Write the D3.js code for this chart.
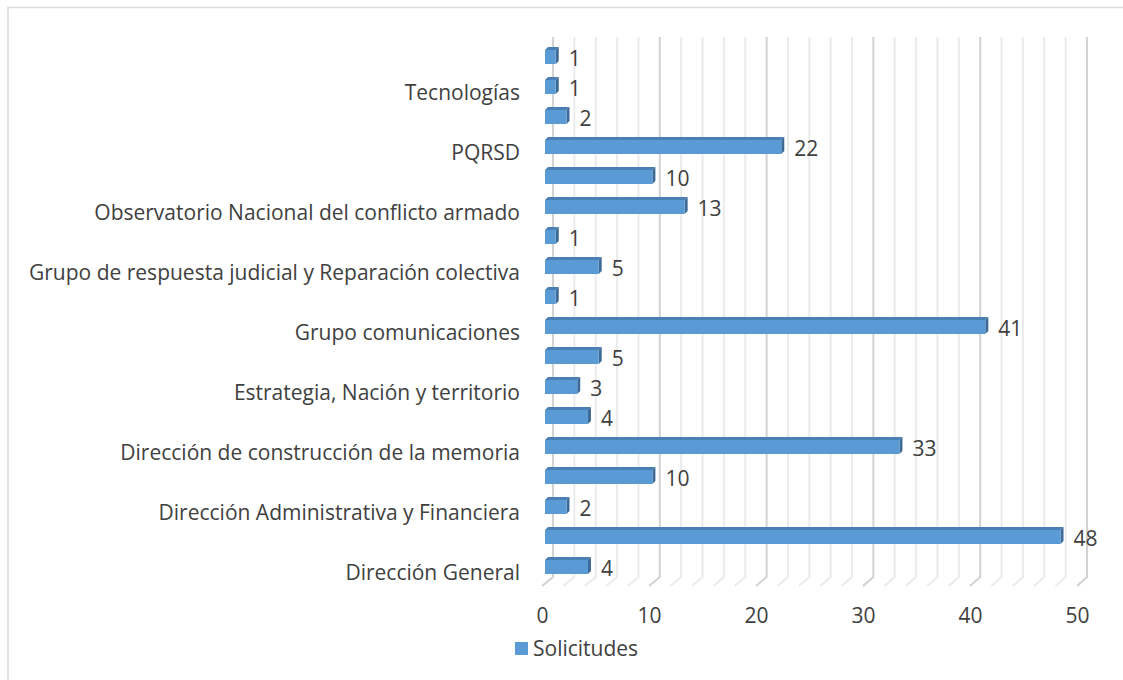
<!DOCTYPE html>
<html lang="es">
<head>
  <meta charset="UTF-8">
  <title>Solicitudes</title>
  <style>
    body { margin: 0; background: #fff; font-family: 'Open Sans', sans-serif; }
    text { fill: #404040; }
  </style>
  <script src="https://d3js.org/d3.v7.min.js"></script>
</head>
<body>
<script>
  // Categories from bottom to top (only every other label is shown in the original)
  const categories = [
    "Dirección General", "",
    "Dirección Administrativa y Financiera", "",
    "Dirección de construcción de la memoria ", "",
    "Estrategia, Nación y territorio", "",
    "Grupo comunicaciones", "",
    "Grupo de respuesta judicial y Reparación colectiva", "",
    "Observatorio Nacional del conflicto armado", "",
    "PQRSD", "",
    "Tecnologías", ""
  ];
  const values = [4, 48, 2, 10, 33, 4, 3, 5, 41, 1, 5, 1, 13, 10, 22, 2, 1, 1];
  const xTicks = [0, 10, 20, 30, 40, 50];
  const seriesName = "Solicitudes";

  const width = 1123, height = 680;
  const fontSize = 21;
  const svg = d3.select("body").append("svg")
    .attr("width", width)
    .attr("height", height);

  // chart border
  svg.append("path")
    .attr("d", "M8,680 L8,7.5 L1123,7.5")
    .attr("fill", "none")
    .attr("stroke", "#d9d9d9")
    .attr("stroke-width", 1.5);

  const rows = d3.range(categories.length);

  // scales: front of floor, back wall, bars (mid depth)
  const xFloor = d3.scaleLinear().domain([0, 50]).range([542, 1077]);
  const xBack = d3.scaleLinear().domain([0, 50]).range([553, 1087]);
  const xBar = d3.scaleLinear().domain([0, 50]).range([545, 1082]);
  const y = d3.scaleBand().domain(rows.slice().reverse()).range([42, 582]);
  const cy = i => y(i) + y.bandwidth() / 2;

  const wallTop = 37, wallBottom = 577, floorFront = 586;

  // back wall gridlines with their floor feet
  const grid = svg.append("g");
  const gv = d3.range(0, 51, 2);
  grid.selectAll("path")
    .data(gv)
    .enter().append("path")
    .attr("d", v => `M${xFloor(v)},${floorFront} L${xBack(v)},${wallBottom} L${xBack(v)},${wallTop}`)
    .attr("fill", "none")
    .attr("stroke", v => v % 10 === 0 ? "#d2d2d2" : "#ebebeb")
    .attr("stroke-width", 2);

  // bars (3D look: front, top, right faces)
  const dx = 3, dy = 3, bh = 14;
  const bars = svg.append("g").selectAll("g")
    .data(values.map((v, i) => ({ v, i })))
    .enter().append("g");

  bars.append("path")
    .attr("d", d => {
      const x0 = xBar(0), x1 = xBar(d.v), t = cy(d.i) - bh / 2;
      return `M${x0},${t} L${x0 + dx},${t - dy} L${x1 + dx},${t - dy} L${x1},${t} Z`;
    })
    .attr("fill", "#4a7fb6");

  bars.append("path")
    .attr("d", d => {
      const x1 = xBar(d.v), t = cy(d.i) - bh / 2;
      return `M${x1},${t} L${x1 + dx},${t - dy} L${x1 + dx},${t + bh - dy} L${x1},${t + bh} Z`;
    })
    .attr("fill", "#3c6996");

  bars.append("rect")
    .attr("x", xBar(0))
    .attr("y", d => cy(d.i) - bh / 2)
    .attr("width", d => xBar(d.v) - xBar(0))
    .attr("height", bh)
    .attr("fill", "#5b9bd5");

  // value labels
  bars.append("text")
    .attr("x", d => xBar(d.v) + 13)
    .attr("y", d => cy(d.i) + 9)
    .attr("font-size", fontSize)
    .text(d => d.v);

  // category labels
  svg.append("g").selectAll("text")
    .data(rows.filter(i => categories[i] !== ""))
    .enter().append("text")
    .attr("x", 520)
    .attr("y", i => cy(i) + 13)
    .attr("text-anchor", "end")
    .attr("font-size", fontSize)
    .text(i => categories[i]);

  // value axis labels
  const axis = svg.append("g")
    .attr("transform", "translate(0,600)")
    .call(d3.axisBottom(xFloor).tickValues(xTicks).tickSize(0).tickPadding(0));
  axis.select(".domain").remove();
  axis.selectAll("text")
    .attr("font-size", fontSize)
    .attr("font-family", "'Open Sans', sans-serif")
    .attr("fill", "#404040")
    .attr("y", 23)
    .attr("dy", 0);

  // legend
  const legend = svg.append("g").attr("transform", "translate(515,642)");
  legend.append("rect")
    .attr("width", 13).attr("height", 13)
    .attr("fill", "#5b9bd5");
  legend.append("text")
    .attr("x", 18).attr("y", 14)
    .attr("font-size", fontSize)
    .text(seriesName);
</script>
</body>
</html>
